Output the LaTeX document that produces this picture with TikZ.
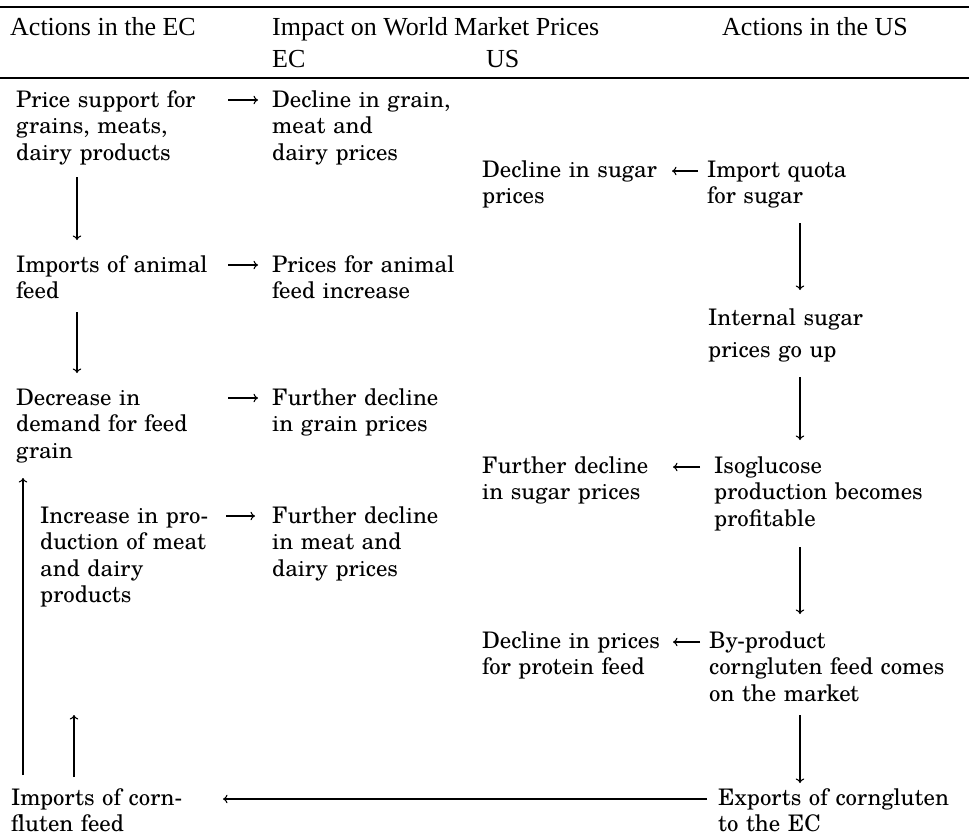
\documentclass[tikz,border=0pt]{standalone}
\usepackage{fontspec}
\usetikzlibrary{arrows.meta}
\setmainfont{Liberation Serif}
\newfontfamily\bodyfont{texgyreschola-regular.otf}
\begin{document}
\begin{tikzpicture}[x=1pt,y=-1pt,
  hdr/.style={anchor=base west,inner sep=0pt,font=\fontsize{26}{32}\selectfont},
  txt/.style={anchor=base west,inner sep=0pt,align=left,text width=250pt,
    font=\bodyfont\fontsize{22.8}{26.5}\selectfont},
  arr/.style={line width=1.1pt,-{To[length=4.5pt,width=8.5pt]}},
  rule/.style={line width=1.6pt}]
\useasboundingbox (0,0) rectangle (969,838);
% rules
\coordinate (r1a) at (0,7); \coordinate (r1b) at (969,7);
\coordinate (r2a) at (0,78); \coordinate (r2b) at (969,78);
\draw[rule] (r1a) -- (r1b);
\draw[rule] (r2a) -- (r2b);
% header
\node[hdr] (hec) at (10,35) {Actions in the EC};
\node[hdr] (himp) at (272,35) {Impact on World Market Prices};
\node[hdr] (hec2) at (272,67) {EC};
\node[hdr] (hus2) at (486,67) {US};
\node[hdr] (hus) at (722,35) {Actions in the US};
% EC column
\node[txt] (p1) at (16,107) {Price support for\\grains, meats,\\dairy products};
\node[txt] (i1) at (16,272) {Imports of animal\\feed};
\node[txt] (dc) at (16,405) {Decrease in\\demand for feed\\grain};
\node[txt] (inc) at (40,523) {Increase in pro-\\duction of meat\\and dairy\\products};
\node[txt] (imp) at (11,805) {Imports of corn-\\fluten feed};
% EC impact column
\node[txt] (d1) at (272,107) {Decline in grain,\\meat and\\dairy prices};
\node[txt] (d2) at (272,272) {Prices for animal\\feed increase};
\node[txt] (d3) at (272,405) {Further decline\\in grain prices};
\node[txt] (d4) at (272,523) {Further decline\\in meat and\\dairy prices};
% US impact column
\node[txt] (s1) at (482,177) {Decline in sugar\\prices};
\node[txt] (s2) at (482,473) {Further decline\\in sugar prices};
\node[txt] (s3) at (482,648) {Decline in prices\\for protein feed};
% US column
\node[txt] (q) at (707,177) {Import quota\\for sugar};
\node[txt] (isp) at (708,325) {Internal sugar\\[5.5pt]prices go up};
\node[txt] (iso) at (714,473) {Isoglucose\\production becomes\\profitable};
\node[txt] (bp) at (709,648) {By-product\\corngluten feed comes\\on the market};
\node[txt] (ex) at (718,805) {Exports of corngluten\\to the EC};
% EC -> impact arrows
\draw[arr] ([shift={(212,-7)}]p1.base west) -- ([shift={(-14,-7)}]d1.base west);
\draw[arr] ([shift={(212,-7)}]i1.base west) -- ([shift={(-14,-7)}]d2.base west);
\draw[arr] ([shift={(212,-7)}]dc.base west) -- ([shift={(-14,-7)}]d3.base west);
\draw[arr] ([shift={(186,-7)}]inc.base west) -- ([shift={(-17,-7)}]d4.base west);
% EC vertical arrows
\draw[arr] ([shift={(61,70)}]p1.base west) -- ([shift={(61,-32)}]i1.base west);
\draw[arr] ([shift={(61,40)}]i1.base west) -- ([shift={(61,-32)}]dc.base west);
\draw[arr] ([shift={(12,-30)}]imp.base west) -- ([shift={(7,73)}]dc.base west);
\draw[arr] ([shift={(63,-28)}]imp.base west) -- ([shift={(34,192)}]inc.base west);
% US -> impact arrows
\draw[arr] ([shift={(-9,-6)}]q.base west) -- ([shift={(190,-6)}]s1.base west);
\draw[arr] ([shift={(-14,-6)}]iso.base west) -- ([shift={(191,-6)}]s2.base west);
\draw[arr] ([shift={(-9,-6)}]bp.base west) -- ([shift={(191,-6)}]s3.base west);
% US vertical arrows
\draw[arr] ([shift={(93,46)}]q.base west) -- ([shift={(92,-35)}]isp.base west);
\draw[arr] ([shift={(92,52)}]isp.base west) -- ([shift={(86,-33)}]iso.base west);
\draw[arr] ([shift={(86,74)}]iso.base west) -- ([shift={(91,-34)}]bp.base west);
\draw[arr] ([shift={(91,67)}]bp.base west) -- ([shift={(82,-22)}]ex.base west);
% exports to EC
\draw[arr] ([shift={(-11,-6)}]ex.base west) -- ([shift={(212,-6)}]imp.base west);
\end{tikzpicture}
\end{document}
